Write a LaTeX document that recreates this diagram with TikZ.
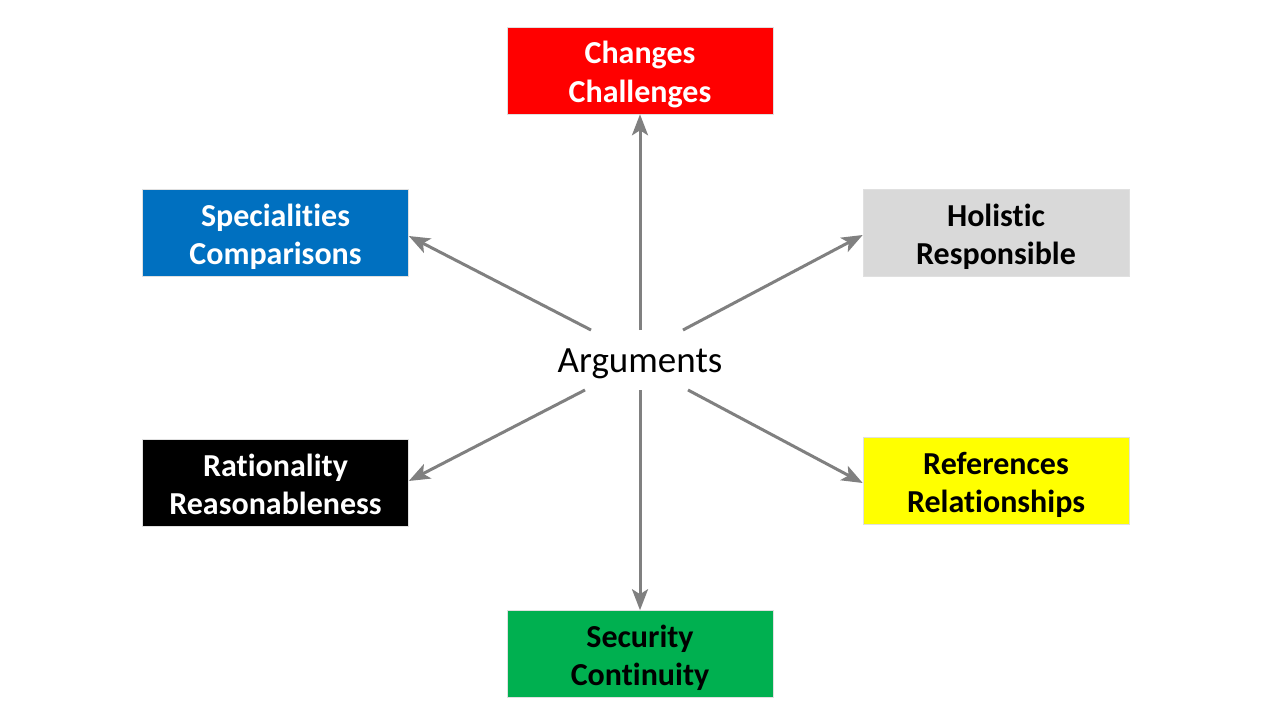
\documentclass[tikz,border=0pt]{standalone}
\usepackage{fontspec}
\setmainfont[Ligatures=NoCommon]{Carlito}
\usetikzlibrary{arrows.meta}
\definecolor{cred}{HTML}{FF0000}
\definecolor{cblue}{HTML}{0070C0}
\definecolor{cgray}{HTML}{D9D9D9}
\definecolor{cyel}{HTML}{FFFF00}
\definecolor{cgreen}{HTML}{00B050}
\definecolor{carrow}{HTML}{808080}
\newcommand{\twolines}[2]{\raisebox{-5pt}[\height][\depth]{\begin{tabular}{@{}c@{}}#1\\#2\end{tabular}}}
\tikzset{
  box/.style={rectangle, minimum width=266pt, minimum height=87pt, inner sep=0pt,
    align=center, draw=black!12, line width=0.6pt,
    font=\fontsize{32}{38.4}\selectfont\bfseries},
  conn/.style={draw=carrow, line width=3pt,
    -{Stealth[length=21pt,width=16pt,inset=5pt]}}
}
\begin{document}
\begin{tikzpicture}[x=1pt,y=-1pt]
\useasboundingbox (0,0) rectangle (1280,720);
\fill[white] (0,0) rectangle (1280,720);
\node[box, fill=cred, text=white] (chg) at (640,70.5) {\twolines{Changes}{Challenges}};
\node[box, fill=cblue, text=white] (spec) at (275.5,233) {\twolines{Specialities}{Comparisons}};
\node[box, fill=cgray, text=black] (hol) at (996,233) {\twolines{Holistic}{Responsible}};
\node[box, fill=black, text=white] (rat) at (275.5,483) {\twolines{Rationality}{Reasonableness}};
\node[box, fill=cyel, text=black] (ref) at (996,481) {\twolines{References}{Relationships}};
\node[box, fill=cgreen, text=black] (sec) at (640,654) {\twolines{Security}{Continuity}};
\node[font=\fontsize{37}{44}\selectfont, inner sep=0pt] (arg) at (640,364) {Arguments};
\coordinate (sU) at (640,330);
\coordinate (sD) at (640,390);
\coordinate (sUL) at (591,330);
\coordinate (sUR) at (683,330);
\coordinate (sDL) at (585,390);
\coordinate (sDR) at (688,390);
\draw[conn] (sU) -- (chg.south);
\draw[conn] (sD) -- (sec.north);
\draw[conn] (sUL) -- ([yshift=-3pt]spec.east);
\draw[conn] (sUR) -- ([yshift=-2pt]hol.west);
\draw[conn] (sDL) -- ([yshift=2pt]rat.east);
\draw[conn] (sDR) -- ([yshift=-2pt]ref.west);
\end{tikzpicture}
\end{document}
